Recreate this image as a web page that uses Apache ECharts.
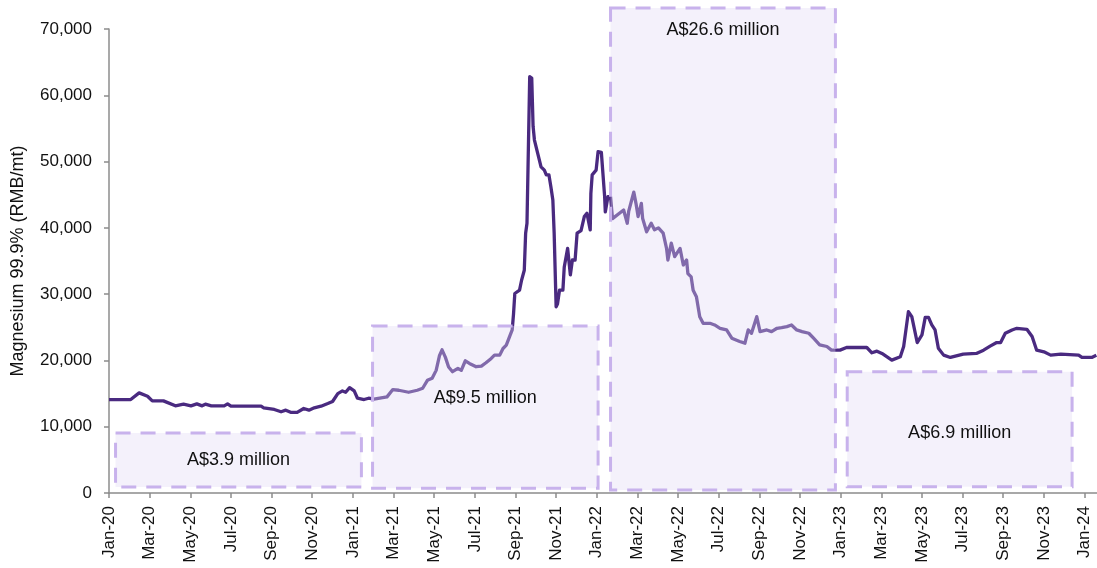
<!DOCTYPE html>
<html>
<head>
<meta charset="utf-8">
<script src="https://cdn.jsdelivr.net/npm/echarts@6/dist/echarts.min.js"></script>
<style>
  html, body { margin: 0; padding: 0; background: #fff; }
  #chart { width: 1097px; height: 568px; }
</style>
</head>
<body>
<div id="chart"></div>
<script>
// x axis tick labels, one every two months from Jan-20
const tickLabels = ['Jan-20','Mar-20','May-20','Jul-20','Sep-20','Nov-20',
  'Jan-21','Mar-21','May-21','Jul-21','Sep-21','Nov-21',
  'Jan-22','Mar-22','May-22','Jul-22','Sep-22','Nov-22',
  'Jan-23','Mar-23','May-23','Jul-23','Sep-23','Nov-23','Jan-24']

// magnesium 99.9% price, RMB/mt
const dates = [
  '2020-01-01','2020-01-16','2020-02-03','2020-02-15','2020-02-27','2020-03-05','2020-03-22','2020-04-09',
  '2020-04-21','2020-05-02','2020-05-11','2020-05-19','2020-05-24','2020-06-02','2020-06-21','2020-06-26',
  '2020-07-01','2020-08-16','2020-08-20','2020-09-05','2020-09-15','2020-09-22','2020-09-30','2020-10-09',
  '2020-10-19','2020-10-27','2020-11-04','2020-11-14','2020-11-24','2020-12-01','2020-12-09','2020-12-16',
  '2020-12-21','2020-12-27',
  '2021-01-03','2021-01-08','2021-01-18','2021-01-25','2021-02-02','2021-02-20','2021-02-28','2021-03-09',
  '2021-03-24','2021-04-06','2021-04-14','2021-04-21','2021-04-28','2021-05-04','2021-05-09','2021-05-13',
  '2021-05-18','2021-05-23','2021-05-29','2021-06-06','2021-06-11','2021-06-17','2021-06-23','2021-07-03',
  '2021-07-11','2021-07-18','2021-07-26','2021-07-31','2021-08-08','2021-08-13','2021-08-18','2021-08-23',
  '2021-08-27','2021-08-29','2021-08-31','2021-09-07','2021-09-10','2021-09-14','2021-09-16','2021-09-18',
  '2021-09-22','2021-09-25','2021-09-27','2021-09-29','2021-10-04','2021-10-09','2021-10-14','2021-10-17',
  '2021-10-21','2021-10-24','2021-10-27','2021-10-29','2021-11-01','2021-11-03','2021-11-06','2021-11-11',
  '2021-11-13','2021-11-18','2021-11-22','2021-11-25','2021-11-29','2021-12-02','2021-12-08','2021-12-13',
  '2021-12-17','2021-12-22','2021-12-23','2021-12-25','2021-12-31',
  '2022-01-03','2022-01-08','2022-01-10','2022-01-13','2022-01-14','2022-01-18','2022-01-22','2022-01-25',
  '2022-02-10','2022-02-15','2022-02-17','2022-02-24','2022-02-27','2022-03-02','2022-03-07','2022-03-09',
  '2022-03-15','2022-03-22','2022-03-27','2022-04-02','2022-04-09','2022-04-14','2022-04-16','2022-04-21',
  '2022-04-26','2022-05-04','2022-05-09','2022-05-14','2022-05-16','2022-05-21','2022-05-24','2022-05-29',
  '2022-06-03','2022-06-08','2022-06-18','2022-06-25','2022-07-03','2022-07-13','2022-07-21','2022-08-02',
  '2022-08-10','2022-08-15','2022-08-20','2022-08-28','2022-09-02','2022-09-12','2022-09-19','2022-09-27',
  '2022-10-04','2022-10-12','2022-10-19','2022-10-27','2022-11-04','2022-11-14','2022-11-21','2022-11-30',
  '2022-12-11','2022-12-18','2022-12-31',
  '2023-01-10','2023-02-09','2023-02-16','2023-02-23','2023-03-02','2023-03-17','2023-03-30','2023-04-04',
  '2023-04-08','2023-04-11','2023-04-16','2023-04-24','2023-05-01','2023-05-06','2023-05-11','2023-05-16',
  '2023-05-21','2023-05-26','2023-06-03','2023-06-13','2023-07-02','2023-07-22','2023-08-02','2023-08-12',
  '2023-08-22','2023-08-28','2023-09-04','2023-09-14','2023-09-21','2023-10-06','2023-10-14','2023-10-21',
  '2023-11-01','2023-11-11','2023-11-26','2023-12-23','2023-12-28','2024-01-12','2024-01-19'
]
const prices = [
  14100,14100,14100,15100,14600,13900,13900,13150,
  13400,13150,13450,13150,13400,13150,13150,13450,
  13100,13100,12850,12600,12250,12500,12150,12150,
  12750,12500,12850,13100,13500,13800,15000,15400,
  15200,15900,
  15400,14300,14100,14300,14150,14500,15600,15500,
  15200,15500,15800,17000,17300,18500,20700,21600,
  20500,19000,18300,18800,18500,19950,19550,19050,
  19150,19650,20300,20800,20800,21800,22300,23600,
  24600,27000,30100,30600,32100,33600,39200,40700,
  62800,62600,55300,53250,51200,49200,48700,48000,
  48000,46200,44200,39200,28100,28500,30600,30600,
  34100,36900,32900,35150,35150,39200,39600,41700,
  42200,39700,45200,48000,48700,
  51500,51400,48700,44700,42400,44700,44700,41400,
  42700,40700,42500,45400,43700,41700,43700,41400,
  39400,40700,39700,40000,39200,36900,35150,37700,
  35650,36900,34400,35150,33100,32600,30600,29600,
  26600,25600,25600,25350,24850,24600,23350,22850,
  22600,24600,24100,26600,24350,24600,24350,24850,
  24950,25100,25350,24600,24350,24100,23350,22350,
  22100,21550,21550,
  21950,21950,21150,21400,21050,20050,20550,22100,
  25100,27350,26600,22700,23850,26500,26500,25350,
  24600,21850,20800,20450,20950,21050,21550,22150,
  22700,22700,24100,24600,24850,24700,23600,21550,
  21300,20800,20950,20800,20450,20450,20800
]

// funding boxes: label, date range, price range, label height
const boxLabels = ['A$3.9 million', 'A$9.5 million', 'A$26.6 million', 'A$6.9 million']
const boxStart = ['2020-01-11', '2021-01-31', '2022-01-22', '2023-01-11']
const boxEnd = ['2021-01-14', '2022-01-03', '2022-12-24', '2023-12-13']
const boxLow = [900, 700, 450, 950]
const boxHigh = [9050, 25200, 73150, 18300]
const boxLabelAt = [5000, 14300, 69800, 9050]

// months since Jan 2020, so ticks land on month starts
function toMonth(s) {
  const [y, m, d] = s.split('-').map(Number)
  const dim = new Date(y, m, 0).getDate()
  return (y - 2020) * 12 + (m - 1) + (d - 1) / dim
}

const lineData = dates.map((d, i) => [toMonth(d), prices[i]])
const boxData = boxLabels.map((_, i) => [toMonth(boxStart[i]), toMonth(boxEnd[i]), boxLow[i], boxHigh[i], boxLabelAt[i]])
const tickValues = tickLabels.map((_, i) => i * 2)

const FONT = '"Liberation Sans", Arial, sans-serif'

const chart = echarts.init(document.getElementById('chart'))
chart.setOption({
  animation: false,
  grid: { left: 109, right: 0, top: 29, bottom: 75, outerBoundsMode: 'none' },
  xAxis: {
    type: 'value',
    min: 0,
    max: toMonth('2024-01-20'),
    splitLine: { show: false },
    axisLine: { lineStyle: { color: '#8c8c8c', width: 1.5 } },
    axisTick: { customValues: tickValues, length: 5, lineStyle: { color: '#8c8c8c', width: 1.5 } },
    axisLabel: {
      customValues: tickValues,
      rotate: 90,
      margin: 13,
      fontFamily: FONT,
      fontSize: 17,
      color: '#111',
      formatter: v => tickLabels[Math.round(v / 2)] || ''
    }
  },
  yAxis: {
    type: 'value',
    min: 0,
    max: 70000,
    interval: 10000,
    name: 'Magnesium 99.9% (RMB/mt)',
    nameLocation: 'middle',
    nameGap: 82,
    nameTextStyle: { fontFamily: FONT, fontSize: 18, color: '#111' },
    splitLine: { show: false },
    axisLine: { show: true, lineStyle: { color: '#8c8c8c', width: 1.5 } },
    axisTick: { show: true, length: 5, lineStyle: { color: '#8c8c8c', width: 1.5 } },
    axisLabel: {
      margin: 17,
      fontFamily: FONT,
      fontSize: 17,
      color: '#111',
      formatter: v => v.toLocaleString('en-US')
    }
  },
  series: [
    {
      type: 'line',
      data: lineData,
      showSymbol: false,
      z: 2,
      lineStyle: { color: '#4a2a80', width: 3.3, join: 'round' }
    },
    {
      // translucent dashed boxes drawn over the price line
      type: 'custom',
      z: 5,
      data: boxData,
      encode: { x: [0, 1], y: [2, 3] },
      renderItem: (params, api) => {
        const p0 = api.coord([api.value(0), api.value(3)])
        const p1 = api.coord([api.value(1), api.value(2)])
        const lab = api.coord([(api.value(0) + api.value(1)) / 2, api.value(4)])
        return {
          type: 'group',
          children: [
            {
              type: 'rect',
              shape: { x: p0[0], y: p0[1], width: p1[0] - p0[0], height: p1[1] - p0[1] },
              style: {
                fill: 'rgba(226,217,244,0.37)',
                stroke: '#c8b2ec',
                lineWidth: 3,
                lineDash: [15, 10]
              }
            },
            {
              type: 'text',
              x: lab[0],
              y: lab[1],
              style: {
                text: boxLabels[params.dataIndex],
                font: '18px ' + FONT,
                fill: '#111',
                align: 'center',
                verticalAlign: 'middle'
              }
            }
          ]
        }
      }
    }
  ]
})
</script>
</body>
</html>
